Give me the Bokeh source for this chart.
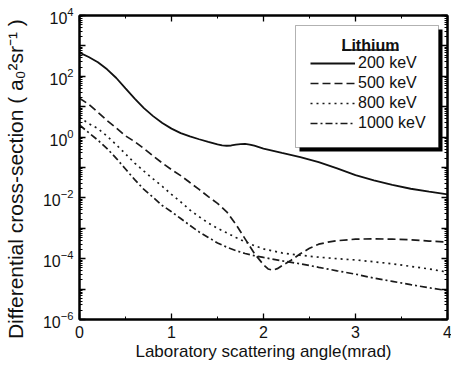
from bokeh.plotting import figure
from bokeh.models import (FixedTicker, LogAxis, LinearAxis, BoxAnnotation, Label,
                          Legend, LegendItem, Range1d, CustomLabelingPolicy)
from bokeh.embed import file_html
from bokeh.resources import INLINE

# ---- data ----
angle_200 = [0.0, 0.1, 0.2, 0.3, 0.4, 0.5, 0.6, 0.7, 0.8, 0.9, 1.0, 1.1, 1.2, 1.3, 1.4, 1.5,
             1.55, 1.6, 1.65, 1.7, 1.75, 1.8, 1.85, 1.9, 2.0, 2.2, 2.4, 2.6, 2.8, 3.0, 3.2,
             3.4, 3.6, 3.8, 4.0]
xs_200 = [6.0e2, 4.3e2, 2.9e2, 1.7e2, 8.8e1, 4.0e1, 1.85e1, 9.0, 4.9, 2.9, 1.9, 1.35, 1.05,
          0.85, 0.70, 0.58, 0.535, 0.52, 0.53, 0.565, 0.59, 0.595, 0.57, 0.52, 0.42, 0.30,
          0.22, 0.15, 0.093, 0.056, 0.038, 0.027, 0.020, 0.016, 0.013]

angle_500 = [0.0, 0.1, 0.2, 0.3, 0.4, 0.5, 0.6, 0.7, 0.8, 0.9, 1.0, 1.1, 1.2, 1.3, 1.4, 1.5,
             1.6, 1.7, 1.8, 1.9, 2.0, 2.05, 2.1, 2.15, 2.2, 2.3, 2.4, 2.5, 2.6, 2.7, 2.8,
             3.0, 3.2, 3.4, 3.6, 3.8, 4.0]
xs_500 = [19, 12, 6.6, 3.5, 2.0, 1.1, 0.71, 0.42, 0.24, 0.14, 0.085, 0.054, 0.032, 0.019,
          0.011, 6.6e-3, 3.5e-3, 1.35e-3, 4.5e-4, 1.5e-4, 6.3e-5, 4.6e-5, 4.2e-5, 4.7e-5,
          5.9e-5, 8.9e-5, 1.45e-4, 2.2e-4, 3.0e-4, 3.5e-4, 3.9e-4, 4.4e-4, 4.5e-4, 4.4e-4,
          4.2e-4, 3.8e-4, 3.5e-4]

angle_800 = [0.0, 0.1, 0.2, 0.3, 0.4, 0.5, 0.6, 0.7, 0.8, 0.9, 1.0, 1.1, 1.2, 1.3, 1.4, 1.5,
             1.6, 1.7, 1.8, 1.9, 2.0, 2.2, 2.4, 2.6, 2.8, 3.0, 3.2, 3.4, 3.6, 3.8, 4.0]
xs_800 = [4.5, 2.8, 1.9, 1.07, 0.56, 0.28, 0.14, 0.076, 0.042, 0.024, 0.013, 7.4e-3, 4.0e-3,
          2.4e-3, 1.5e-3, 1.0e-3, 7.1e-4, 5.0e-4, 3.6e-4, 2.7e-4, 2.1e-4, 1.55e-4, 1.3e-4,
          1.12e-4, 1.0e-4, 9.1e-5, 7.9e-5, 6.8e-5, 5.6e-5, 4.6e-5, 3.6e-5]

angle_1000 = [0.0, 0.1, 0.2, 0.3, 0.4, 0.5, 0.6, 0.7, 0.8, 0.9, 1.0, 1.1, 1.2, 1.3, 1.4, 1.5,
              1.6, 1.7, 1.8, 1.9, 2.0, 2.2, 2.4, 2.6, 2.8, 3.0, 3.2, 3.4, 3.6, 3.8, 4.0]
xs_1000 = [2.5, 1.4, 0.79, 0.42, 0.20, 0.089, 0.040, 0.019, 0.0105, 5.6e-3, 3.5e-3, 2.1e-3,
           1.25e-3, 7.6e-4, 5.0e-4, 3.3e-4, 2.4e-4, 1.85e-4, 1.48e-4, 1.26e-4, 1.1e-4, 8.5e-5,
           6.8e-5, 5.2e-5, 4.0e-5, 3.1e-5, 2.3e-5, 1.8e-5, 1.4e-5, 1.1e-5, 8.9e-6]

series_labels = ["200 keV", "500 keV", "800 keV", "1000 keV"]
legend_title = "Lithium"
x_title = "Laboratory scattering angle(mrad)"
y_title = "Differential cross-section  ( a\u2080\u00b2sr\u207b\u00b9 )" + "\u00a0" * 3
x_ticks = [0, 1, 2, 3, 4]
x_minor = [0.5, 1.5, 2.5, 3.5]
y_ticks = [10.0 ** e for e in range(-6, 5)]          # every decade; labels on even ones
y_minor = [m * 10.0 ** e for e in range(-6, 4) for m in range(2, 10)]

FONT = "Liberation Sans"
INK = "#111111"

p = figure(width=451, height=369, frame_width=368, frame_height=304,
           x_range=Range1d(0, 4), y_range=Range1d(1e-6, 1e4), y_axis_type="log",
           output_backend="svg", toolbar_location=None,
           min_border_left=79, min_border_right=4, min_border_top=15, min_border_bottom=50)
p.xgrid.visible = False
p.ygrid.visible = False
p.outline_line_color = "black"
p.outline_line_width = 2
p.background_fill_color = "white"
p.border_fill_color = "white"

def style_axis(ax, labels=True):
    ax.axis_line_color = "black"
    ax.axis_line_width = 2
    ax.major_tick_in = 6
    ax.major_tick_out = 0
    ax.minor_tick_in = 3
    ax.minor_tick_out = 0
    ax.major_tick_line_color = "black"
    ax.minor_tick_line_color = "black"
    ax.major_tick_line_width = 1.3
    ax.minor_tick_line_width = 1
    ax.major_label_text_font = FONT
    ax.major_label_text_color = INK
    ax.major_label_text_font_size = "16px"
    if labels:
        ax.major_label_standoff = 6
    else:
        ax.major_label_standoff = 0
        ax.major_label_policy = CustomLabelingPolicy(code="return []")

xt = FixedTicker(ticks=x_ticks, minor_ticks=x_minor)
yt = FixedTicker(ticks=y_ticks, minor_ticks=y_minor)

p.xaxis.ticker = xt
p.yaxis.ticker = yt
style_axis(p.xaxis[0])
style_axis(p.yaxis[0])
p.yaxis[0].major_label_policy = CustomLabelingPolicy(
    code="const out = []; for (const i of indices) { if (i % 2 == 0) out.push(i) } return out")
for ax, txt, size, st in ((p.xaxis[0], x_title, "17px", 1), (p.yaxis[0], y_title, "21px", 13)):
    ax.axis_label = txt
    ax.axis_label_text_font = FONT
    ax.axis_label_text_font_size = size
    ax.axis_label_text_font_style = "normal"
    ax.axis_label_text_color = INK
    ax.axis_label_standoff = st

top_ax = LinearAxis(ticker=xt)
style_axis(top_ax, labels=False)
p.add_layout(top_ax, "above")
right_ax = LogAxis(ticker=yt)
style_axis(right_ax, labels=False)
p.add_layout(right_ax, "right")

r200 = p.line(angle_200, xs_200, line_color="#111111", line_width=1.8)
r500 = p.line(angle_500, xs_500, line_color="#1a1a1a", line_width=1.7, line_dash="8 4")
r800 = p.line(angle_800, xs_800, line_color="#1a1a1a", line_width=1.7, line_dash="2 4")
r1000 = p.line(angle_1000, xs_1000, line_color="#1a1a1a", line_width=1.7, line_dash="7 3 2 3")

# legend box with shadow (screen units, relative to the frame)
p.add_layout(BoxAnnotation(left=220, right=363, top=290, bottom=168,
                           left_units="screen", right_units="screen",
                           top_units="screen", bottom_units="screen",
                           fill_color="black", fill_alpha=1, line_color=None))
p.add_layout(BoxAnnotation(left=216, right=359, top=294, bottom=172,
                           left_units="screen", right_units="screen",
                           top_units="screen", bottom_units="screen",
                           fill_color="white", fill_alpha=1, line_color="black", line_width=1))
p.add_layout(Label(x=291, y=274, x_units="screen", y_units="screen", text=legend_title,
                   text_align="center", text_baseline="middle", text_font=FONT,
                   text_font_size="16px", text_font_style="bold", text_color=INK))
p.add_layout(BoxAnnotation(left=262.5, right=319, top=270.3, bottom=268.8,
                           left_units="screen", right_units="screen",
                           top_units="screen", bottom_units="screen",
                           fill_color=INK, fill_alpha=1, line_color=None))

legend = Legend(items=[LegendItem(label=series_labels[0], renderers=[r200]),
                       LegendItem(label=series_labels[1], renderers=[r500]),
                       LegendItem(label=series_labels[2], renderers=[r800]),
                       LegendItem(label=series_labels[3], renderers=[r1000])],
                location=(231, 186), padding=0, margin=0, spacing=0,
                label_height=20, glyph_height=20, glyph_width=45, label_standoff=3,
                border_line_color=None, background_fill_alpha=0,
                label_text_font=FONT, label_text_font_size="16px", label_text_color=INK)
p.add_layout(legend)

open("out.html", "w").write(file_html(p, INLINE))
